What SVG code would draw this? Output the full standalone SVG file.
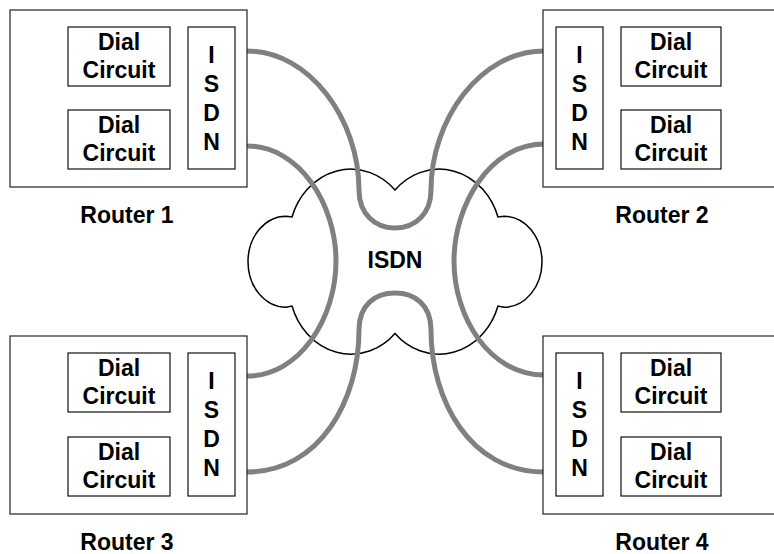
<svg xmlns="http://www.w3.org/2000/svg" width="774" height="554" viewBox="0 0 774 554">
<style>
.box{fill:#fff;stroke:#222;stroke-width:1.2}
.in{fill:#fff;stroke:#111;stroke-width:1.2}
.t{font-family:"Liberation Sans",Arial,sans-serif;font-weight:bold;font-size:23px;fill:#000;text-anchor:middle}
.link{fill:none;stroke:#808080;stroke-width:5}
.cloud{fill:#fff;stroke:#000;stroke-width:1.5}
</style>
<rect width="774" height="554" fill="#fff"/>
<g id="cloud">
<path class="cloud" d="M395,190 A62,70 0 0 1 498,217 L504,216.2 A38,45.5 0 0 1 504,307.2 L498,306 A62,70 0 0 1 395,333.4 A62,70 0 0 1 292,306 L286,307.2 A38,45.5 0 0 1 286,216.2 L292,217 A62,70 0 0 1 395,190 Z"/>
<text class="t" x="395" y="268">ISDN</text>
</g>
<g id="connectors">
<path class="link" d="M247,51 C310,51 359,120 359,190 C359,214 375,228 395,228 C415,228 431,214 431,190 C431,120 480,51 544,51"/>
<path class="link" d="M247,146 C300,146 336,205 336,261 C336,318 300,376 247,376"/>
<path class="link" d="M544,144 C490,144 454,205 454,261 C454,318 490,375 544,375"/>
<path class="link" d="M247,472 C320,472 359,400 359,330 C359,305 375,293 395,293 C415,293 431,305 431,330 C431,400 470,472 544,472"/>
</g>
<g id="router1">
<rect class="box" x="10" y="10" width="237" height="177"/>
<rect class="in" x="68" y="27" width="102" height="59"/>
<text class="t" x="119" y="50">Dial</text><text class="t" x="119" y="78">Circuit</text>
<rect class="in" x="68" y="110" width="102" height="59"/>
<text class="t" x="119" y="133">Dial</text><text class="t" x="119" y="161">Circuit</text>
<rect class="in" x="188" y="27" width="47" height="142"/>
<text class="t" x="211.5" y="62.5">I</text><text class="t" x="211.5" y="91.5">S</text><text class="t" x="211.5" y="120.5">D</text><text class="t" x="211.5" y="149.5">N</text>
<text class="t" x="127" y="222.5">Router 1</text>
</g>
<g id="router2">
<rect class="box" x="543" y="10" width="240" height="177"/>
<rect class="in" x="556" y="27" width="47" height="142"/>
<text class="t" x="579.5" y="62.5">I</text><text class="t" x="579.5" y="91.5">S</text><text class="t" x="579.5" y="120.5">D</text><text class="t" x="579.5" y="149.5">N</text>
<rect class="in" x="621" y="27" width="100" height="59"/>
<text class="t" x="671" y="50">Dial</text><text class="t" x="671" y="78">Circuit</text>
<rect class="in" x="621" y="110" width="100" height="59"/>
<text class="t" x="671" y="133">Dial</text><text class="t" x="671" y="161">Circuit</text>
<text class="t" x="662" y="222.5">Router 2</text>
</g>
<g id="router3">
<rect class="box" x="10" y="336" width="237" height="178"/>
<rect class="in" x="68" y="353" width="102" height="59"/>
<text class="t" x="119" y="376">Dial</text><text class="t" x="119" y="404">Circuit</text>
<rect class="in" x="68" y="437" width="102" height="59"/>
<text class="t" x="119" y="460">Dial</text><text class="t" x="119" y="488">Circuit</text>
<rect class="in" x="188" y="353" width="47" height="143"/>
<text class="t" x="211.5" y="388.5">I</text><text class="t" x="211.5" y="417.5">S</text><text class="t" x="211.5" y="446.5">D</text><text class="t" x="211.5" y="475.5">N</text>
<text class="t" x="127" y="550">Router 3</text>
</g>
<g id="router4">
<rect class="box" x="543" y="336" width="240" height="178"/>
<rect class="in" x="556" y="353" width="47" height="143"/>
<text class="t" x="579.5" y="388.5">I</text><text class="t" x="579.5" y="417.5">S</text><text class="t" x="579.5" y="446.5">D</text><text class="t" x="579.5" y="475.5">N</text>
<rect class="in" x="621" y="353" width="100" height="59"/>
<text class="t" x="671" y="376">Dial</text><text class="t" x="671" y="404">Circuit</text>
<rect class="in" x="621" y="437" width="100" height="59"/>
<text class="t" x="671" y="460">Dial</text><text class="t" x="671" y="488">Circuit</text>
<text class="t" x="662" y="550">Router 4</text>
</g>
</svg>
